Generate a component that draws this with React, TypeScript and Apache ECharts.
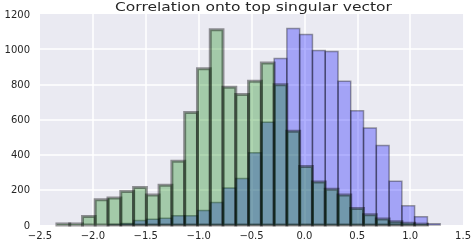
import React, { useEffect, useRef } from 'react';
import * as echarts from 'echarts';

const titleText = 'Correlation onto top singular vector';

const binEdges = [
  -2.34, -2.219, -2.098, -1.978, -1.857, -1.736, -1.615, -1.494, -1.374, -1.253,
  -1.132, -1.011, -0.89, -0.77, -0.649, -0.528, -0.407, -0.286, -0.166, -0.045,
  0.076, 0.197, 0.318, 0.438, 0.559, 0.68, 0.801, 0.922, 1.042, 1.163, 1.284,
];

const greenCounts = [
  6, 6, 49, 143, 154, 190, 213, 170, 226, 363,
  640, 889, 1111, 784, 742, 818, 921, 797, 533, 332,
  245, 203, 170, 94, 58, 34, 19, 10, 5, 0,
];

const blueCounts = [
  0, 0, 0, 0, 3, 8, 25, 33, 38, 53,
  53, 83, 128, 211, 264, 411, 584, 947, 1117, 1083,
  993, 987, 818, 650, 552, 452, 249, 109, 47, 7,
];

const yTicks = { min: 0, max: 1200, interval: 200 };
const xTicks = { min: -2.5, max: 1.5, interval: 0.5 };

export default function App() {
  const ref = useRef<HTMLDivElement>(null);
  useEffect(() => {
    if (!ref.current) return;
    const chart = echarts.init(ref.current, null, { renderer: 'svg' });
    const toRects = (counts: number[]) => counts.map((c, i) => [binEdges[i], binEdges[i + 1], c]);
    const mk = (name: string, counts: number[], fill: string, stroke: string, lw: number) => ({
      type: 'custom',
      name,
      data: toRects(counts),
      encode: { x: [0, 1], y: 2 },
      renderItem: (params: any, api: any) => {
        const v = api.value(2);
        if (!v) return null;
        const p0 = api.coord([api.value(0), v]);
        const p1 = api.coord([api.value(1), 0]);
        return {
          type: 'rect',
          shape: { x: p0[0], y: p0[1], width: p1[0] - p0[0], height: p1[1] - p0[1] },
          style: { fill, stroke, lineWidth: lw },
        };
      },
    });
    const font = 'DejaVu Sans';
    chart.setOption({
      animation: false,
      grid: {
        left: 40, right: 7, top: 14, bottom: 14,
        show: true, backgroundColor: '#EAEAF2', borderWidth: 0,
      },
      graphic: [
        {
          type: 'text',
          x: 253.5,
          y: 7,
          scaleX: 1.35,
          style: {
            text: titleText,
            fontSize: 11.5,
            fontFamily: font,
            fill: '#262626',
            align: 'center',
            verticalAlign: 'middle',
          },
        },
      ],
      xAxis: {
        type: 'value',
        min: xTicks.min, max: xTicks.max, interval: xTicks.interval,
        axisLine: { show: false },
        axisTick: { show: false },
        axisLabel: {
          color: '#262626', fontSize: 10, fontFamily: font, margin: 5,
          formatter: (v: number) => v.toFixed(1).replace('-', '\u2212'),
          showMinLabel: true, showMaxLabel: true,
        },
        splitLine: { show: true, showMinLine: false, showMaxLine: false, lineStyle: { color: '#ffffff', width: 1.5 } },
      },
      yAxis: {
        type: 'value',
        min: yTicks.min, max: yTicks.max, interval: yTicks.interval,
        axisLine: { show: false },
        axisTick: { show: false },
        axisLabel: {
          color: '#262626', fontSize: 10, fontFamily: font, margin: 10,
          formatter: (v: number) => String(v),
        },
        splitLine: { show: true, showMinLine: false, showMaxLine: false, lineStyle: { color: '#ffffff', width: 1.5 } },
      },
      series: [
        mk('blue', blueCounts, 'rgba(0,0,255,0.3)', 'rgba(0,0,0,0.35)', 1.5),
        mk('green', greenCounts, 'rgba(0,128,0,0.3)', 'rgba(0,0,0,0.4)', 3),
      ],
    });
    return () => chart.dispose();
  }, []);
  return <div ref={ref} style={{ position: 'fixed', left: 0, top: 0, width: 474, height: 240 }} />;
}
